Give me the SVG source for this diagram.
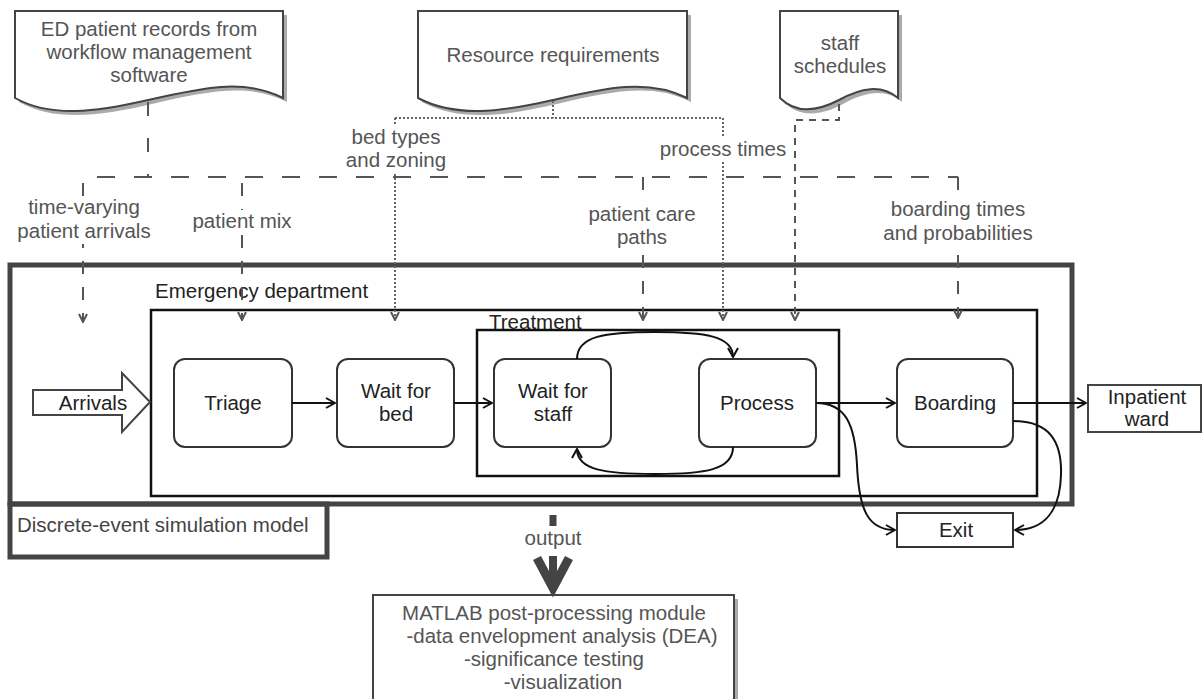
<svg xmlns="http://www.w3.org/2000/svg" width="1202" height="699" viewBox="0 0 1202 699">
<style>
text{font-family:"Liberation Sans",Arial,sans-serif;font-size:20.5px}
.lbl{fill:#555;text-anchor:middle}
.doc{fill:#fff;stroke:#444;stroke-width:2}
.sh{fill:#aaa}
.node{fill:#fff;stroke:#333;stroke-width:2}
.nt{fill:#222;text-anchor:middle}
.box{fill:none;stroke:#111;stroke-width:2.5}
.thick{fill:none;stroke:#444;stroke-width:5}
.flow{fill:none;stroke:#111;stroke-width:2}
.dash{fill:none;stroke:#555;stroke-width:2;stroke-dasharray:18 19}
.vd{fill:none;stroke:#555;stroke-width:2;stroke-dasharray:13 13}
.sd{fill:none;stroke:#555;stroke-width:2;stroke-dasharray:7 6}
.dot{fill:none;stroke:#666;stroke-width:2;stroke-dasharray:2 2}
.bg{fill:#fff}
</style>
<defs>
<marker id="ah" viewBox="0 0 12 12" refX="11" refY="6" markerWidth="12" markerHeight="12" orient="auto" markerUnits="userSpaceOnUse"><path d="M2,1 L11,6 L2,11" fill="none" stroke="#111" stroke-width="2"/></marker>
<marker id="ag" viewBox="0 0 10 10" refX="9" refY="5" markerWidth="10" markerHeight="10" orient="auto" markerUnits="userSpaceOnUse"><path d="M1,1 L9,5 L1,9" fill="none" stroke="#555" stroke-width="2"/></marker>
</defs>
<rect width="1202" height="699" fill="#fff"/>

<g id="doc-ed">
<path class="sh" d="M19,15 H287 V102 C248,82 205,92 152,104 C100,116 55,122 19,102 Z"/>
<path class="doc" d="M15,11 H283 V98 C244,78 201,88 148,100 C96,112 51,118 15,98 Z"/>
<text class="lbl" x="149" y="36">ED patient records from</text>
<text class="lbl" x="149" y="59">workflow management</text>
<text class="lbl" x="149" y="82">software</text>
</g>
<g id="doc-resource">
<path class="sh" d="M422,15 H691 V102 C652,82 609,92 557,104 C505,116 460,122 422,102 Z"/>
<path class="doc" d="M418,11 H687 V98 C648,78 605,88 553,100 C501,112 456,118 418,98 Z"/>
<text class="lbl" x="553" y="62">Resource requirements</text>
</g>
<g id="doc-staff">
<path class="sh" d="M784,15 H902 V102 C885,88 865,92 843,104 C820,116 800,118 784,102 Z"/>
<path class="doc" d="M780,11 H898 V98 C881,84 861,88 839,100 C816,112 796,114 780,98 Z"/>
<text class="lbl" x="840" y="50">staff</text>
<text class="lbl" x="840" y="73">schedules</text>
</g>

<g id="sim-model">
<rect class="thick" x="10" y="265" width="1062" height="239"/>
<rect class="thick" x="10" y="504" width="317" height="53"/>
<text x="17" y="532" style="fill:#444">Discrete-event simulation model</text>
</g>
<g id="emergency">
<rect class="box" x="151" y="310" width="886" height="186"/>
<text x="155" y="298" style="fill:#222">Emergency department</text>
</g>
<g id="treatment">
<rect class="box" x="477" y="330" width="362" height="146"/>
<text x="489" y="329" style="fill:#222">Treatment</text>
</g>

<g id="arrivals">
<path d="M33,390 H122 V373 L150,402 L122,432 V415 H33 Z" fill="#fff" stroke="#444" stroke-width="2"/>
<text class="nt" x="93" y="410">Arrivals</text>
</g>
<g id="triage"><rect class="node" x="174" y="359" width="118" height="88" rx="11"/><text class="nt" x="233" y="410">Triage</text></g>
<g id="wait-bed"><rect class="node" x="337" y="359" width="117" height="88" rx="11"/><text class="nt" x="396" y="398">Wait for</text><text class="nt" x="396" y="421">bed</text></g>
<g id="wait-staff"><rect class="node" x="494" y="359" width="117" height="88" rx="11"/><text class="nt" x="553" y="398">Wait for</text><text class="nt" x="553" y="421">staff</text></g>
<g id="process"><rect class="node" x="699" y="359" width="117" height="88" rx="11"/><text class="nt" x="757" y="410">Process</text></g>
<g id="boarding"><rect class="node" x="897" y="359" width="116" height="88" rx="11"/><text class="nt" x="955" y="410">Boarding</text></g>
<g id="inpatient"><rect x="1088" y="385" width="113" height="47" fill="#fff" stroke="#444" stroke-width="2"/><text class="nt" x="1147" y="404">Inpatient</text><text class="nt" x="1147" y="426">ward</text></g>
<g id="exit"><rect x="897" y="513" width="116" height="34" fill="#fff" stroke="#333" stroke-width="2"/><text class="nt" x="956" y="537">Exit</text></g>
<g id="matlab">
<rect x="377" y="599" width="361" height="110" fill="#aaa"/>
<rect x="373" y="595" width="361" height="110" fill="#fff" stroke="#444" stroke-width="2"/>
<text class="lbl" x="554" y="620">MATLAB post-processing module</text>
<text class="lbl" x="562" y="643">-data envelopment analysis (DEA)</text>
<text class="lbl" x="554" y="666">-significance testing</text>
<text class="lbl" x="563" y="689">-visualization</text>
</g>

<g id="connectors">
<path class="flow" d="M292,403 H335" marker-end="url(#ah)"/>
<path class="flow" d="M454,403 H492" marker-end="url(#ah)"/>
<path class="flow" d="M577,359 C577,336 605,332 655,332 C705,332 733,336 733,357" marker-end="url(#ah)"/>
<path class="flow" d="M733,447 C733,470 705,474 655,474 C605,474 577,470 577,449" marker-end="url(#ah)"/>
<path class="flow" d="M816,403 H895" marker-end="url(#ah)"/>
<path class="flow" d="M1013,403 H1086" marker-end="url(#ah)"/>
<path class="flow" d="M816,403 C846,403 855,425 857,465 C859,510 868,530 895,530" marker-end="url(#ah)"/>
<path class="flow" d="M1013,421 C1050,421 1062,442 1061,475 C1060,510 1045,530 1015,530" marker-end="url(#ah)"/>

<path class="vd" d="M148,102 V177" style="stroke-dasharray:14 22"/>
<path class="dash" d="M97,177 H958"/>
<path class="vd" d="M83,183 V322" marker-end="url(#ag)"/>
<path class="vd" d="M242,183 V320" marker-end="url(#ag)"/>
<path class="vd" d="M643,177 V320" marker-end="url(#ag)"/>
<path class="vd" d="M958,177 V318" marker-end="url(#ag)"/>
<path class="dot" d="M553,101 V118 M395,118 H723"/>
<path class="dot" d="M395,118 V320" marker-end="url(#ag)"/>
<path class="dot" d="M723,118 V320" marker-end="url(#ag)"/>
<path class="sd" d="M839,104 V120 H795 V320" marker-end="url(#ag)"/>

<path d="M553,515 V526" stroke="#444" stroke-width="7"/>
<path d="M553,556 V588" stroke="#444" stroke-width="8"/>
<path d="M537,558 L553,588 L569,558" fill="none" stroke="#444" stroke-width="9" stroke-linejoin="miter"/>
</g>

<g id="labels">
<rect class="bg" x="15" y="196" width="138" height="48"/>
<text class="lbl" x="84" y="214">time-varying</text>
<text class="lbl" x="84" y="238">patient arrivals</text>
<rect class="bg" x="189" y="210" width="106" height="24"/>
<text class="lbl" x="242" y="228">patient mix</text>
<rect class="bg" x="343" y="124" width="106" height="48"/>
<text class="lbl" x="396" y="144">bed types</text>
<text class="lbl" x="396" y="167">and zoning</text>
<rect class="bg" x="657" y="137" width="132" height="25"/>
<text class="lbl" x="723" y="156">process times</text>
<rect class="bg" x="584" y="200" width="116" height="50"/>
<text class="lbl" x="642" y="221">patient care</text>
<text class="lbl" x="642" y="244">paths</text>
<rect class="bg" x="878" y="196" width="162" height="52"/>
<text class="lbl" x="958" y="216">boarding times</text>
<text class="lbl" x="958" y="240">and probabilities</text>
<rect class="bg" x="524" y="528" width="58" height="24"/>
<text class="lbl" x="553" y="545">output</text>
</g>
</svg>
